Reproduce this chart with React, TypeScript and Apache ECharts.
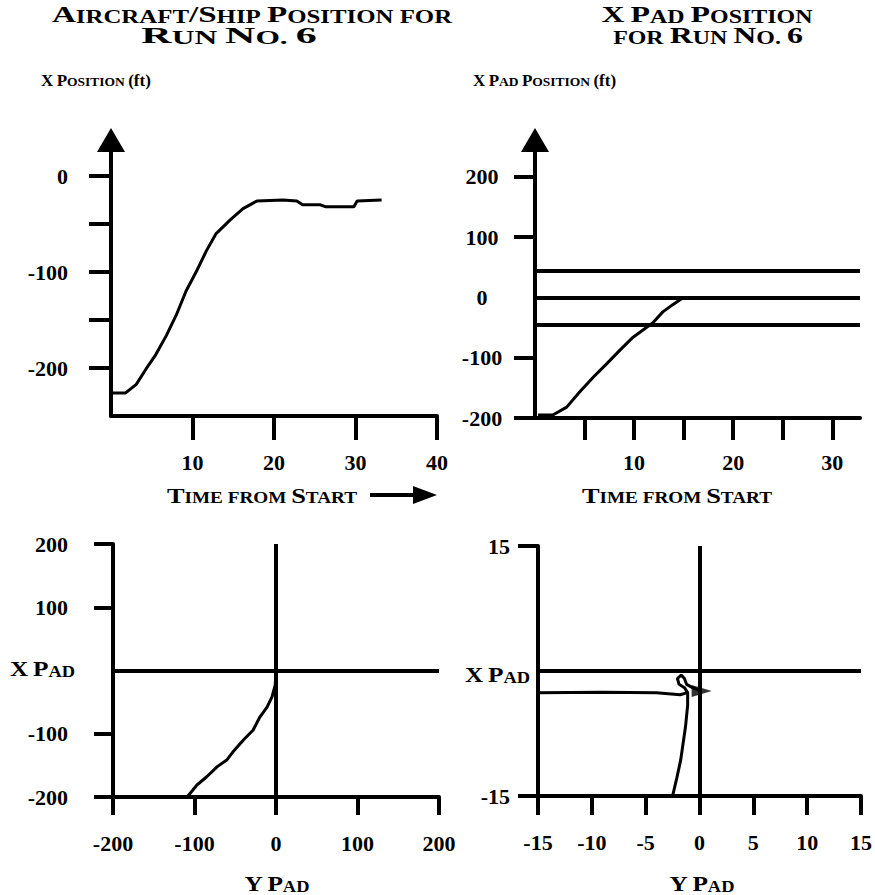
import React, { useEffect, useRef } from "react";
import * as echarts from "echarts";

// ---------- data ----------
// Top-left: aircraft/ship X position vs time
const tlTime = [0, 1.8, 3.1, 4.3, 5.5, 6.8, 8.0, 9.2, 10.5, 11.7, 12.9, 14.6, 16.2, 17.9, 21.1, 22.8, 23.5, 25.7, 26.3, 29.8, 30.2, 33.2];
const tlXPos = [-226, -226, -217, -201, -186, -166, -145, -120, -99, -78, -60, -46, -34, -26, -25, -26, -30, -30, -32, -32, -26, -25];
const tlYTicks = [-200, -150, -100, -50, 0];
const tlYLabels = [-200, -100, 0];
const tlXTicks = [10, 20, 30, 40];

// Top-right: X pad position vs time
const trTime = [0.3, 1.8, 3.2, 4.5, 5.9, 7.3, 8.6, 9.9, 10.9, 11.9, 12.9, 13.9, 14.9, 16.0];
const trXPad = [-195, -195, -182, -157, -132, -109, -87, -66, -54, -42, -24, -12, -1, 0];
const trPadLines = [45, 0, -45];
const trYTicks = [-200, -100, 100, 200];
const trYLabels = [-200, -100, 0, 100, 200];
const trXTicks = [5, 10, 15, 20, 25, 30];
const trXLabels = [10, 20, 30];

// Bottom-left: X pad vs Y pad (wide scale)
const blYPad = [-109, -97, -85, -72, -60, -53, -40, -28, -20, -11, -5, -1, 0];
const blXPad = [-200, -181, -168, -152, -141, -129, -110, -94, -74, -58, -42, -23, -4];
const blYTicks = [-200, -100, 100, 200];
const blXTicks = [-200, -100, 0, 100, 200];

// Bottom-right: X pad vs Y pad (zoomed scale)
const brYPad = [-2.5, -2.1, -1.75, -1.3, -1.1, -1.1, -1.4, -1.9, -2.05, -1.7, -1.4, -1.2, -0.65, 0.2];
const brXPad = [-15, -12.8, -10.7, -6.7, -4.1, -2.6, -2.0, -1.6, -0.9, -0.5, -0.9, -1.6, -2.0, -2.4];
const brLineY = [-15, -9, -4, -1.8, -1.1];
const brLineX = [-2.6, -2.55, -2.6, -2.85, -2.6];
const brArrowY = [0.2];
const brArrowX = [-2.4];
const brYTicks = [-15, 15];
const brXTicks = [-15, -10, -5, 0, 5, 10, 15];

// ---------- styling ----------
const FONT = '"Liberation Serif", "Times New Roman", serif';
const BLACK = "#000";

const zip = (a: number[], b: number[]) => a.map((v, i) => [v, b[i]]);

function valueAxis(o: any) {
  return {
    type: "value",
    gridIndex: o.grid,
    min: o.min,
    max: o.max,
    position: o.position,
    splitLine: { show: false },
    axisLine: {
      show: true,
      onZero: false,
      lineStyle: { color: BLACK, width: 4 },
      symbol: o.arrow ? ["none", "triangle"] : ["none", "none"],
      symbolSize: [28, 24],
    },
    axisTick: {
      show: true,
      customValues: o.ticks,
      length: o.tickLen,
      lineStyle: { color: BLACK, width: 4 },
    },
    axisLabel: {
      show: true,
      customValues: o.labels,
      margin: o.margin,
      align: o.align,
      color: BLACK,
      fontFamily: FONT,
      fontWeight: "bold",
      fontSize: 22,
    },
  };
}

function scText(text: string, x: number, y: number, big: number, small: number, align = "center", sx = 1) {
  return {
    type: "text",
    x,
    y,
    scaleX: sx,
    silent: true,
    style: {
      text,
      fill: BLACK,
      fontFamily: FONT,
      fontWeight: "bold",
      fontSize: small,
      align,
      verticalAlign: "middle",
      rich: {
        b: { fontSize: big, fontFamily: FONT, fontWeight: "bold", fill: BLACK, verticalAlign: "bottom" },
        s: { fontSize: small, fontFamily: FONT, fontWeight: "bold", fill: BLACK, verticalAlign: "bottom" },
        n: { fontSize: big, fontFamily: FONT, fontWeight: "bold", fill: BLACK, verticalAlign: "bottom" },
      },
    },
  };
}

const refLine = {
  silent: true,
  symbol: ["none", "none"],
  label: { show: false },
  lineStyle: { color: BLACK, width: 4, type: "solid" },
  emphasis: { disabled: true },
};

const curve = { color: BLACK, width: 3 };

export default function App() {
  const ref = useRef<HTMLDivElement>(null);
  useEffect(() => {
    document.body.style.margin = "0";
    const chart = echarts.init(ref.current!, null, { renderer: "svg" });
    const option: any = {
      animation: false,
      backgroundColor: "#fff",
      grid: [
        { left: 111, top: 140, width: 326, height: 276 },
        { left: 535, top: 140, width: 325, height: 278 },
        { left: 113, top: 544, width: 326, height: 253 },
        { left: 538, top: 546, width: 325, height: 250 },
      ],
      xAxis: [
        valueAxis({ grid: 0, min: 0, max: 40, position: "bottom", ticks: tlXTicks, labels: tlXTicks, tickLen: 24, margin: 35 }),
        valueAxis({ grid: 1, min: 0, max: 32.8, position: "bottom", ticks: trXTicks, labels: trXLabels, tickLen: 22, margin: 33 }),
        valueAxis({ grid: 2, min: -200, max: 200, position: "bottom", ticks: blXTicks, labels: blXTicks, tickLen: 18, margin: 35 }),
        valueAxis({ grid: 3, min: -15, max: 15, position: "bottom", ticks: brXTicks, labels: brXTicks, tickLen: 19, margin: 35 }),
      ],
      yAxis: [
        valueAxis({ grid: 0, min: -250, max: 37.5, position: "left", ticks: tlYTicks, labels: tlYLabels, tickLen: 22, margin: 43, arrow: true }),
        valueAxis({ grid: 1, min: -200, max: 261, position: "left", ticks: trYTicks, labels: trYLabels, tickLen: 21, margin: 53, align: "center", arrow: true }),
        valueAxis({ grid: 2, min: -200, max: 200, position: "left", ticks: blYTicks, labels: blYTicks, tickLen: 19, margin: 45 }),
        valueAxis({ grid: 3, min: -15, max: 15, position: "left", ticks: brYTicks, labels: brYTicks, tickLen: 20, margin: 28 }),
      ],
      series: [
        {
          type: "line", xAxisIndex: 0, yAxisIndex: 0, symbol: "none", lineStyle: curve,
          data: zip(tlTime, tlXPos),
        },
        {
          type: "line", xAxisIndex: 1, yAxisIndex: 1, symbol: "none", lineStyle: curve,
          data: zip(trTime, trXPad),
          markLine: { ...refLine, data: trPadLines.map((v) => ({ yAxis: v })) },
        },
        {
          type: "line", xAxisIndex: 2, yAxisIndex: 2, symbol: "none", lineStyle: curve,
          data: zip(blYPad, blXPad),
          markLine: { ...refLine, data: [{ yAxis: 0 }, { xAxis: 0 }] },
        },
        {
          type: "line", xAxisIndex: 3, yAxisIndex: 3, symbol: "none", lineStyle: curve,
          data: zip(brYPad, brXPad),
          markLine: { ...refLine, data: [{ yAxis: 0 }, { xAxis: 0 }] },
        },
        {
          type: "line", xAxisIndex: 3, yAxisIndex: 3, symbol: "none", lineStyle: curve,
          data: zip(brLineY, brLineX),
        },
        {
          type: "scatter", xAxisIndex: 3, yAxisIndex: 3,
          symbol: "triangle", symbolSize: [12, 20], symbolRotate: -90,
          itemStyle: { color: BLACK },
          data: zip(brArrowY, brArrowX),
        },
      ],
      graphic: [
        scText("{b|A}{s|IRCRAFT}{b|/S}{s|HIP} {b|P}{s|OSITION} {s|FOR}", 252, 14, 24, 18, "center", 1.38),
        scText("{b|R}{s|UN} {b|N}{s|O.} {b|6}", 229, 35, 24, 18, "center", 1.75),
        scText("{b|X} {b|P}{s|AD} {b|P}{s|OSITION}", 707, 14, 24, 18, "center", 1.33),
        scText("{s|FOR} {b|R}{s|UN} {b|N}{s|O.} {b|6}", 708, 35, 24, 18, "center", 1.33),
        scText("{b|X} {b|P}{s|OSITION} {n|(ft)}", 41, 80, 17, 13.5, "left"),
        scText("{b|X} {b|P}{s|AD} {b|P}{s|OSITION} {n|(ft)}", 473, 80, 17, 13.5, "left"),
        scText("{b|T}{s|IME} {s|FROM} {b|S}{s|TART}", 262, 495, 22, 16, "center", 1.2),
        scText("{b|T}{s|IME} {s|FROM} {b|S}{s|TART}", 677, 495, 22, 16, "center", 1.2),
        scText("{b|X} {b|P}{s|AD}", 75, 669, 22, 16, "right", 1.15),
        scText("{b|X} {b|P}{s|AD}", 530, 675, 22, 16, "right", 1.15),
        scText("{b|Y} {b|P}{s|AD}", 277, 884, 22, 16, "center", 1.15),
        scText("{b|Y} {b|P}{s|AD}", 702, 884, 22, 16, "center", 1.15),
        {
          type: "line", silent: true,
          shape: { x1: 370, y1: 495, x2: 416, y2: 495 },
          style: { stroke: BLACK, lineWidth: 4 },
        },
        {
          type: "polygon", silent: true,
          shape: { points: [[413, 486], [437, 495], [413, 504]] },
          style: { fill: BLACK },
        },
      ],
    };
    chart.setOption(option);
    return () => chart.dispose();
  }, []);
  return <div ref={ref} style={{ width: 875, height: 895 }} />;
}
